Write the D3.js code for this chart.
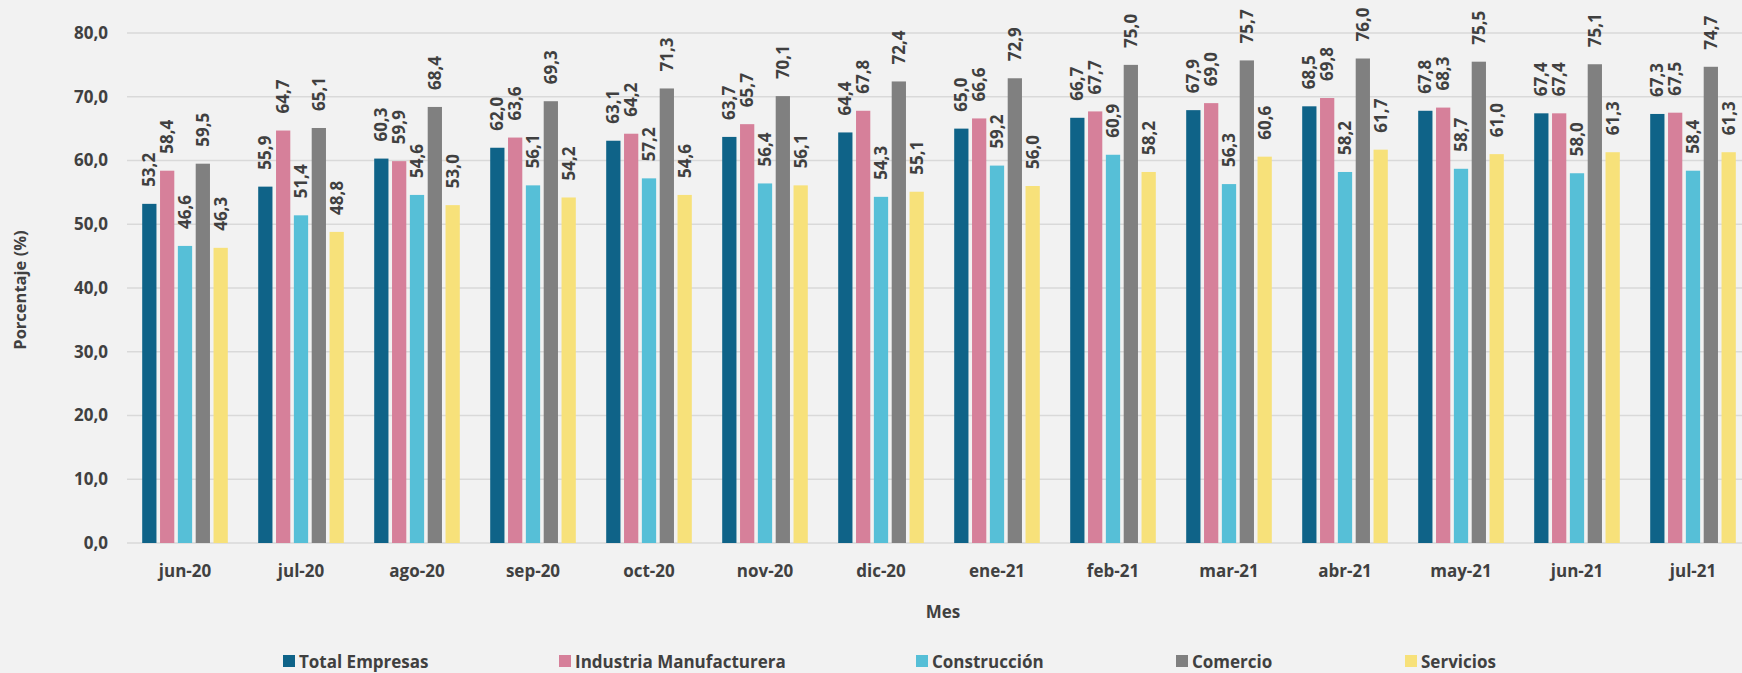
<!DOCTYPE html>
<html>
<head>
<meta charset="utf-8">
<script src="https://cdn.jsdelivr.net/npm/d3@7"></script>
<style>
  html, body { margin: 0; padding: 0; background: #f2f2f2; }
  svg { display: block; }
  text { font-family: "Open Sans", "Noto Sans", sans-serif; font-weight: 700; fill: #404040; }
</style>
</head>
<body>
<svg id="chart" width="1742" height="673"></svg>
<script>
const months = ["jun-20","jul-20","ago-20","sep-20","oct-20","nov-20","dic-20","ene-21","feb-21","mar-21","abr-21","may-21","jun-21","jul-21"];
const seriesNames = ["Total Empresas","Industria Manufacturera","Construcción","Comercio","Servicios"];
const totalEmpresas = [53.2,55.9,60.3,62.0,63.1,63.7,64.4,65.0,66.7,67.9,68.5,67.8,67.4,67.3];
const industria     = [58.4,64.7,59.9,63.6,64.2,65.7,67.8,66.6,67.7,69.0,69.8,68.3,67.4,67.5];
const construccion  = [46.6,51.4,54.6,56.1,57.2,56.4,54.3,59.2,60.9,56.3,58.2,58.7,58.0,58.4];
const comercio      = [59.5,65.1,68.4,69.3,71.3,70.1,72.4,72.9,75.0,75.7,76.0,75.5,75.1,74.7];
const servicios     = [46.3,48.8,53.0,54.2,54.6,56.1,55.1,56.0,58.2,60.6,61.7,61.0,61.3,61.3];
const yTicks = [0,10,20,30,40,50,60,70,80];
const colors = ["#0f6388","#d6809a","#56bfd7","#808080","#f7e17a"];

const seriesValues = [totalEmpresas, industria, construccion, comercio, servicios];

const svg = d3.select("#chart");
const fmt = v => d3.format(".1f")(v).replace(".", ",");

const plot = { left: 127, right: 1751, top: 33, bottom: 543 };

const x0 = d3.scaleBand().domain(months).range([plot.left, plot.right])
  .paddingInner(0.262).paddingOuter(0.131);
const x1 = d3.scaleBand().domain(seriesNames).range([0, x0.bandwidth()])
  .paddingInner(0.2).paddingOuter(0);
const y = d3.scaleLinear().domain([0, 80]).range([plot.bottom, plot.top]);

// gridlines
svg.append("g").selectAll("line").data(yTicks).join("line")
  .attr("x1", plot.left).attr("x2", 1742)
  .attr("y1", d => y(d)).attr("y2", d => y(d))
  .attr("stroke", "#d9d9d9").attr("stroke-width", 1.5);

// y axis labels
const yAxis = d3.axisLeft(y).tickValues(yTicks).tickFormat(fmt).tickSize(0).tickPadding(0);
const yg = svg.append("g").attr("transform", `translate(108,0)`).call(yAxis);
yg.select(".domain").remove();
yg.selectAll("text").style("font-size", "17px").style("font-family", null).attr("fill", "#404040");

// bars
const groups = svg.append("g").selectAll("g").data(months).join("g")
  .attr("transform", d => `translate(${x0(d)},0)`);

groups.each(function(m, mi) {
  const g = d3.select(this);
  const recs = seriesNames.map((s, si) => ({ s, si, v: seriesValues[si][mi] }));
  g.selectAll("rect").data(recs).join("rect")
    .attr("x", d => x1(d.s))
    .attr("width", x1.bandwidth())
    .attr("y", d => y(d.v))
    .attr("height", d => y(0) - y(d.v))
    .attr("fill", d => colors[d.si]);
  g.selectAll("text.lbl").data(recs).join("text").attr("class", "lbl")
    .attr("transform", d => `translate(${x1(d.s) + x1.bandwidth() / 2},${y(d.v) - 17}) rotate(-90)`)
    .attr("text-anchor", "start")
    .attr("dy", "0.36em")
    .style("font-size", "17px")
    .text(d => fmt(d.v));
});

// x axis labels
const xAxis = d3.axisBottom(x0).tickSize(0).tickPadding(0);
const xg = svg.append("g").attr("transform", `translate(0,563)`).call(xAxis);
xg.select(".domain").remove();
xg.selectAll("text").style("font-size", "17px").style("font-family", null).attr("fill", "#404040").attr("dy", "0.85em");

// axis titles
svg.append("text").attr("x", 943).attr("y", 618).attr("text-anchor", "middle")
  .style("font-size", "17px").text("Mes");
svg.append("text").attr("transform", `translate(26,290) rotate(-90)`).attr("text-anchor", "middle")
  .style("font-size", "16.5px").text("Porcentaje (%)");

// legend
const legendX = [283, 559, 916, 1176, 1405];
const lg = svg.append("g").selectAll("g").data(seriesNames).join("g")
  .attr("transform", (d, i) => `translate(${legendX[i]},655)`);
lg.append("rect").attr("width", 12).attr("height", 12).attr("fill", (d, i) => colors[i]);
lg.append("text").attr("x", 16).attr("y", 13).style("font-size", "17px").text(d => d);
</script>
</body>
</html>
